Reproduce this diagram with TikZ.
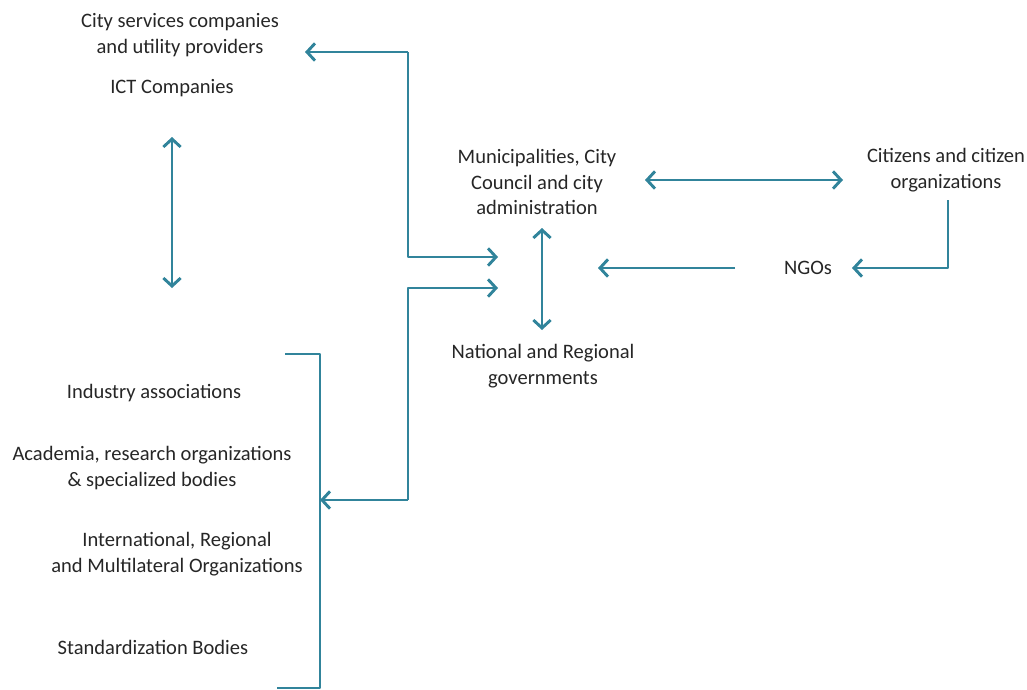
\documentclass[tikz,border=0pt]{standalone}
\usepackage{fontspec}
\setmainfont{Carlito}
\usetikzlibrary{arrows.meta}
\definecolor{linkblue}{RGB}{49,132,155}
\begin{document}
\begin{tikzpicture}[x=0.75pt,y=-0.75pt,font=\fontsize{15.4}{19}\selectfont,
  lbl/.style={align=center,text=black!85},
  link/.style={draw=linkblue,line width=2.2pt,line join=round,-{Straight Barb[length=6pt,width=13pt]}},
  both/.style={link,{Straight Barb[length=6pt,width=13pt]}-{Straight Barb[length=6pt,width=13pt]}},
  plain/.style={draw=linkblue,line width=2.2pt,line join=round}]
\useasboundingbox (0,0) rectangle (1027,689);
\node[lbl] (1) at (180,35) {City services companies\\and utility providers};
\node[lbl] (2) at (172,88) {ICT Companies};
\node[lbl] (3) at (537,182) {Municipalities, City\\Council and city\\administration};
\node[lbl] (4) at (946,170) {Citizens and citizen\\organizations};
\node[lbl] (5) at (808,268) {NGOs};
\node[lbl] (6) at (543,366) {National and Regional\\governments};
\node[lbl] (7) at (154,393) {Industry associations};
\node[lbl] (8) at (152,468) {Academia, research organizations\\\& specialized bodies};
\node[lbl] (9) at (177,554) {International, Regional\\and Multilateral Organizations};
\node[lbl] (10) at (153,647) {Standardization Bodies};
\coordinate (a1) at (172,137);
\coordinate (a2) at (172,288);
\coordinate (b1) at (408,52);
\coordinate (b2) at (305,52);
\coordinate (b3) at (408,257);
\coordinate (b4) at (498,257);
\coordinate (c1) at (408,500);
\coordinate (c2) at (320,500);
\coordinate (c3) at (408,288);
\coordinate (c4) at (498,288);
\coordinate (d1) at (285,354);
\coordinate (d2) at (320,354);
\coordinate (d3) at (320,688);
\coordinate (d4) at (277,688);
\coordinate (e1) at (645,180);
\coordinate (e2) at (843,180);
\coordinate (f1) at (948,200);
\coordinate (f2) at (948,268);
\coordinate (f3) at (852,268);
\coordinate (g1) at (735,268);
\coordinate (g2) at (598,268);
\coordinate (h1) at (542,228);
\coordinate (h2) at (542,330);
\path[both] (a1) -- (a2);
\path[link] (b1) -- (b2);
\path[link] (b1) -- (b3) -- (b4);
\path[link] (c1) -- (c2);
\path[link] (c1) -- (c3) -- (c4);
\path[plain] (d1) -- (d2) -- (d3) -- (d4);
\path[both] (e1) -- (e2);
\path[link] (f1) -- (f2) -- (f3);
\path[link] (g1) -- (g2);
\path[both] (h1) -- (h2);
\end{tikzpicture}
\end{document}
